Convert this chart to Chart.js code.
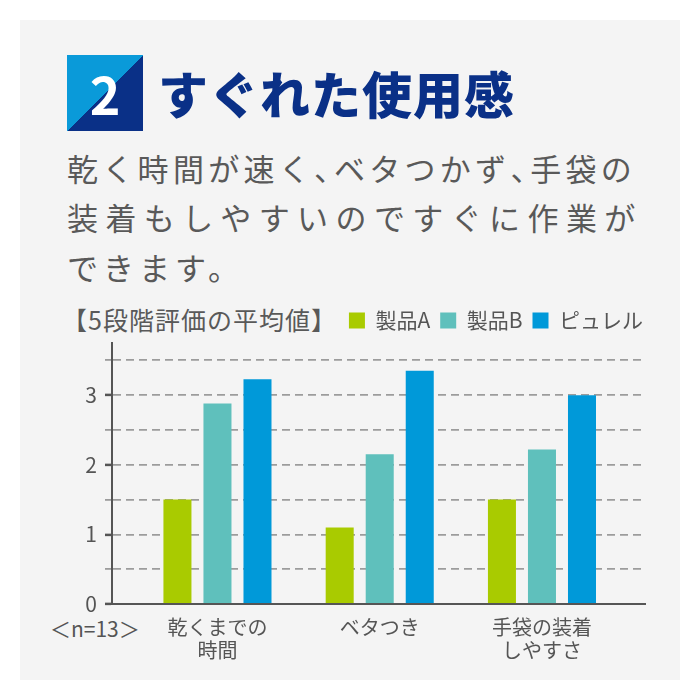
<!DOCTYPE html>
<html lang="ja">
<head>
<meta charset="utf-8">
<script src="https://cdn.jsdelivr.net/npm/chart.js@4.4.1/dist/chart.umd.min.js"></script>
<style>
  html, body { margin: 0; padding: 0; background: #fff; }
  body { width: 700px; height: 700px; position: relative; overflow: hidden;
         font-family: "Noto Sans CJK JP", "Noto Sans", sans-serif; }
  #panel { position: absolute; left: 20px; top: 20px; width: 660px; height: 660px; background: #f4f4f4; }
  #badge { position: absolute; left: 67px; top: 55px; width: 76px; height: 76px;
           background: linear-gradient(to bottom right, #0a9ad9 50%, #0a3087 50%);
           color: #fff; font-weight: 700; font-size: 52px; line-height: 76px; text-align: center; }
  #heading { position: absolute; left: 158px; top: 54px; height: 76px; line-height: 76px;
             font-size: 50px; font-weight: 900; letter-spacing: 1px; color: #0a3087; white-space: nowrap; }
  .line { position: absolute; left: 67px; font-size: 31px; line-height: 40px; color: #595959; white-space: nowrap; }
  .half { font-feature-settings: "halt"; }
  #l1 { top: 148px; letter-spacing: 4.3px; }
  #l2 { top: 197px; letter-spacing: 7.4px; }
  #l3 { top: 247px; letter-spacing: 5px; }
  #unit { position: absolute; left: 62px; top: 303px; font-size: 25px; line-height: 32px; letter-spacing: 1px;
          color: #595959; white-space: nowrap; }
  #n { position: absolute; left: 50px; top: 616px; font-size: 21px; line-height: 24px; color: #555; white-space: nowrap; }
  #c { position: absolute; left: 20px; top: 290px; }
</style>
</head>
<body>
<div id="panel"></div>
<div id="badge">2</div>
<div id="heading">すぐれた使用感</div>
<div class="line" id="l1">乾く時間が速く<span class="half">、</span>ベタつかず<span class="half">、</span>手袋の</div>
<div class="line" id="l2">装着もしやすいのですぐに作業が</div>
<div class="line" id="l3">できます。</div>
<div id="unit">【5段階評価の平均値】</div>
<div id="n">＜n=13＞</div>
<canvas id="c" width="660" height="390"></canvas>
<script>
const categories = [["乾くまでの", "時間"], ["ベタつき"], ["手袋の装着", "しやすさ"]];
const seriesNames = ["製品A", "製品B", "ピュレル"];
const productA = [1.5, 1.1, 1.5];
const productB = [2.88, 2.15, 2.22];
const purell = [3.23, 3.35, 3.0];
const yGridValues = [0, 0.5, 1, 1.5, 2, 2.5, 3, 3.5];
const yLabelled = [0, 1, 2, 3];

const FONT = "'Noto Sans CJK JP', 'Noto Sans', sans-serif";
const TEXT = "#555";
const GRID = "#9c9c9c";

// bars sit at x = 1, 2, 3 on a linear axis so the group spacing can match
const toPoints = vals => vals.map((v, i) => ({ x: i + 1, y: v }));

// fixed legend height so the plot top lands where it should,
// and nudge it right so it lines up with the end of the grid
const legendFix = {
  id: "legendFix",
  beforeInit(chart) {
    const lg = chart.legend;
    if (!lg) return;
    const fit = lg.fit;
    lg.fit = function () { fit.call(this); this.height = 43; };
  },
  afterLayout(chart) {
    const lg = chart.legend;
    if (!lg) return;
    lg.left += 8;
    lg.right += 8;
  }
};

const ctx = document.getElementById("c").getContext("2d");
new Chart(ctx, {
  type: "bar",
  data: {
    datasets: [
      { label: seriesNames[0], data: toPoints(productA), backgroundColor: "#a9cb00" },
      { label: seriesNames[1], data: toPoints(productB), backgroundColor: "#5fc0bc" },
      { label: seriesNames[2], data: toPoints(purell), backgroundColor: "#0099d9" }
    ]
  },
  options: {
    responsive: false,
    animation: false,
    borderWidth: 0,
    categoryPercentage: 0.74,
    barPercentage: 0.7,
    layout: { padding: { top: 10, right: 35, left: 0, bottom: 0 } },
    plugins: {
      tooltip: { enabled: false },
      legend: {
        position: "top",
        align: "end",
        labels: {
          boxWidth: 16,
          boxHeight: 16,
          padding: 10,
          color: TEXT,
          font: { family: FONT, size: 21 }
        }
      }
    },
    scales: {
      x: {
        type: "linear",
        offset: false,
        min: 0.35,
        max: 3.635,
        afterBuildTicks(s) { s.ticks = categories.map((c, i) => ({ value: i + 1 })); },
        afterFit(s) { s.height = 76; },
        ticks: {
          callback: v => categories[v - 1],
          color: TEXT,
          font: { family: FONT, size: 20, lineHeight: 1.15 },
          padding: 12,
          maxRotation: 0,
          autoSkip: false
        },
        grid: { display: false, drawTicks: false },
        border: { color: TEXT, width: 2 }
      },
      y: {
        min: 0,
        max: 3.75,
        afterBuildTicks(s) { s.ticks = yGridValues.map(v => ({ value: v })); },
        afterFit(s) { s.width = 92; },
        ticks: {
          callback: v => (yLabelled.includes(v) ? String(v) : ""),
          color: TEXT,
          font: { family: FONT, size: 21 },
          padding: 8
        },
        grid: {
          color: c => (c.tick && c.tick.value === 0 ? "rgba(0,0,0,0)" : GRID),
          lineWidth: 1.8,
          tickColor: c => (c.tick && yLabelled.includes(c.tick.value) ? TEXT : GRID),
          tickLength: 7,
          tickWidth: c => (c.tick && yLabelled.includes(c.tick.value) ? 2.5 : 1.8),
          tickBorderDash: []
        },
        border: { color: TEXT, width: 2, dash: [8, 5] }
      }
    }
  },
  plugins: [legendFix]
});
</script>
</body>
</html>
